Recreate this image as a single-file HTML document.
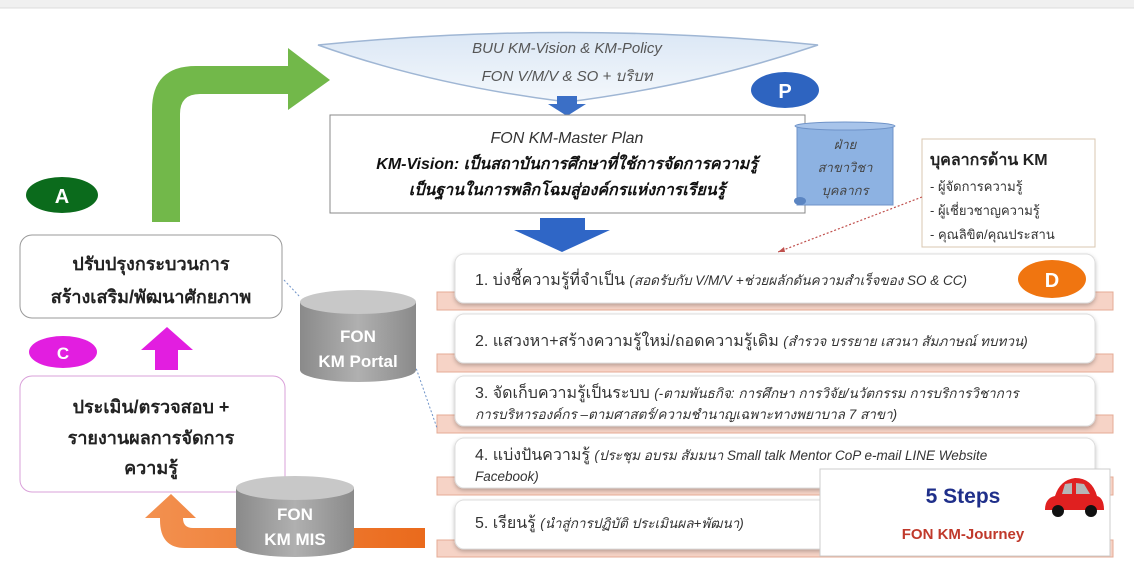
<!DOCTYPE html>
<html><head><meta charset="utf-8"><style>
body{margin:0;width:1134px;height:575px;overflow:hidden;background:#fff;font-family:"Liberation Sans","Noto Sans CJK SC",sans-serif}
</style></head><body>
<svg width="1134" height="575" xmlns="http://www.w3.org/2000/svg" style="position:absolute;left:0;top:0;font-family:'Liberation Sans','Noto Sans CJK SC',sans-serif">
<defs>
<linearGradient id="cyl" x1="0" x2="1"><stop offset="0" stop-color="#8a8a8a"/><stop offset="0.5" stop-color="#b0b0b0"/><stop offset="1" stop-color="#8a8a8a"/></linearGradient>
<linearGradient id="lens" x1="0" y1="0" x2="0" y2="1"><stop offset="0" stop-color="#dbe7f5"/><stop offset="1" stop-color="#f4f8fc"/></linearGradient>
<linearGradient id="orng" x1="0" x2="1"><stop offset="0" stop-color="#f39150"/><stop offset="1" stop-color="#ea6a1c"/></linearGradient>
<filter id="sh" x="-5%" y="-20%" width="110%" height="150%"><feDropShadow dx="0" dy="2" stdDeviation="2" flood-color="#000" flood-opacity="0.25"/></filter>
</defs>
<rect x="0" y="0" width="1134" height="8" fill="#f0f0f0"/>
<line x1="0" y1="8" x2="1134" y2="8" stroke="#ddd"/>
<path d="M152,222 L152,110 Q152,66 196,66 L288,66 L288,48 L330,80 L288,110 L288,94 L200,94 Q180,94 180,114 L180,222 Z" fill="#72b84a"/>
<path d="M318,45 Q567,20 818,45 Q700,85 567,102 Q430,85 318,45 Z" fill="url(#lens)" stroke="#9fb6d4" stroke-width="1.5"/>
<text x="567" y="53" text-anchor="middle" font-size="15" font-style="italic" fill="#555">BUU KM-Vision &amp; KM-Policy</text>
<text x="567" y="81" text-anchor="middle" font-size="15" font-style="italic" fill="#555">FON V/M/V &amp; SO + บริบท</text>
<path d="M557,96 L577,96 L577,104 L586,104 L567,116 L548,104 L557,104 Z" fill="#3b6fc6"/>
<ellipse cx="785" cy="90" rx="34" ry="18" fill="#2e64c0"/>
<text x="785" y="98" text-anchor="middle" font-size="20" font-weight="bold" fill="#fff">P</text>
<rect x="330" y="115" width="475" height="98" fill="#fff" stroke="#888"/>
<text x="567" y="143" text-anchor="middle" font-size="16" font-style="italic" fill="#333">FON KM-Master  Plan</text>
<text x="567" y="169" text-anchor="middle" font-size="16" font-style="italic" font-weight="bold" fill="#111">KM-Vision: เป็นสถาบันการศึกษาที่ใช้การจัดการความรู้</text>
<text x="567" y="195" text-anchor="middle" font-size="16" font-style="italic" font-weight="bold" fill="#111">เป็นฐานในการพลิกโฉมสู่องค์กรแห่งการเรียนรู้</text>
<rect x="797" y="125" width="96" height="80" fill="#8db2e2" stroke="#6f93c8"/>
<ellipse cx="845" cy="126" rx="50" ry="4" fill="#a8c4ea" stroke="#6f93c8"/>
<ellipse cx="800" cy="201" rx="6" ry="4" fill="#5b85c2"/>
<text x="845" y="149" text-anchor="middle" font-size="13" font-style="italic" fill="#444">ฝ่าย</text>
<text x="845" y="172" text-anchor="middle" font-size="13" font-style="italic" fill="#444">สาขาวิชา</text>
<text x="845" y="195" text-anchor="middle" font-size="13" font-style="italic" fill="#444">บุคลากร</text>
<rect x="922" y="139" width="173" height="108" fill="#fff" stroke="#d9c7b0"/>
<text x="930" y="165" font-size="16" font-weight="bold" fill="#222">บุคลากรด้าน KM</text>
<text x="930" y="191" font-size="13" fill="#333">- ผู้จัดการความรู้</text>
<text x="930" y="215" font-size="13" fill="#333">- ผู้เชี่ยวชาญความรู้</text>
<text x="930" y="239" font-size="13" fill="#333">- คุณลิขิต/คุณประสาน</text>
<line x1="922" y1="197" x2="778" y2="252" stroke="#c0504d" stroke-width="1.2" stroke-dasharray="2,2"/>
<path d="M778,252 l6,-5 l1,5z" fill="#c0504d"/>
<path d="M540,218 L585,218 L585,230 L610,230 L562,252 L514,230 L540,230 Z" fill="#2f66c6"/>
<g>
<rect x="437" y="292" width="676" height="18" fill="#f6d3c6" stroke="#e5ab95"/>
<rect x="455" y="254" width="640" height="49" rx="9" fill="#fff" stroke="#ddd" filter="url(#sh)"/>
<rect x="437" y="354" width="676" height="18" fill="#f6d3c6" stroke="#e5ab95"/>
<rect x="455" y="314" width="640" height="49" rx="9" fill="#fff" stroke="#ddd" filter="url(#sh)"/>
<rect x="437" y="415" width="676" height="18" fill="#f6d3c6" stroke="#e5ab95"/>
<rect x="455" y="376" width="640" height="50" rx="9" fill="#fff" stroke="#ddd" filter="url(#sh)"/>
<rect x="437" y="477" width="676" height="18" fill="#f6d3c6" stroke="#e5ab95"/>
<rect x="455" y="438" width="640" height="50" rx="9" fill="#fff" stroke="#ddd" filter="url(#sh)"/>
<rect x="437" y="540" width="676" height="17" fill="#f6d3c6" stroke="#e5ab95"/>
<rect x="455" y="500" width="640" height="49" rx="9" fill="#fff" stroke="#ddd" filter="url(#sh)"/>
</g>
<g font-size="16" fill="#333">
<text x="475" y="285">1. บ่งชี้ความรู้ที่จำเป็น <tspan font-size="13.5" font-style="italic">(สอดรับกับ V/M/V +ช่วยผลักดันความสำเร็จของ SO &amp; CC)</tspan></text>
<text x="475" y="346">2. แสวงหา+สร้างความรู้ใหม่/ถอดความรู้เดิม <tspan font-size="13.5" font-style="italic">(สำรวจ บรรยาย เสวนา สัมภาษณ์ ทบทวน)</tspan></text>
<text x="475" y="398">3. จัดเก็บความรู้เป็นระบบ <tspan font-size="13.5" font-style="italic">(-ตามพันธกิจ: การศึกษา การวิจัย/นวัตกรรม การบริการวิชาการ</tspan></text>
<text x="475" y="419" font-size="13.5" font-style="italic">การบริหารองค์กร –ตามศาสตร์/ความชำนาญเฉพาะทางพยาบาล 7 สาขา)</text>
<text x="475" y="460">4. แบ่งปันความรู้ <tspan font-size="13.5" font-style="italic">(ประชุม อบรม สัมมนา Small talk Mentor CoP e-mail LINE Website</tspan></text>
<text x="475" y="481" font-size="13.5" font-style="italic">Facebook)</text>
<text x="475" y="528">5. เรียนรู้ <tspan font-size="13.5" font-style="italic">(นำสู่การปฏิบัติ ประเมินผล+พัฒนา)</tspan></text>
</g>
<ellipse cx="1052" cy="279" rx="34" ry="19" fill="#f07510"/>
<text x="1052" y="287" text-anchor="middle" font-size="20" font-weight="bold" fill="#fff">D</text>
<rect x="820" y="469" width="290" height="87" fill="#fff" stroke="#ccc"/>
<text x="963" y="503" text-anchor="middle" font-size="21" font-weight="bold" fill="#1f2f8a">5 Steps</text>
<text x="963" y="539" text-anchor="middle" font-size="15" font-weight="bold" fill="#c0392b">FON KM-Journey</text>
<g>
<path d="M1045,510 Q1045,498 1055,496 Q1060,480 1075,478 Q1092,478 1097,496 Q1104,498 1104,510 Z" fill="#e02020"/>
<path d="M1062,494 L1065,484 L1072,483 L1072,494 Z" fill="#b6b6b6"/>
<path d="M1076,494 L1076,483 L1084,484 L1090,494 Z" fill="#b6b6b6"/>
<circle cx="1058" cy="511" r="6" fill="#111"/><circle cx="1091" cy="511" r="6" fill="#111"/>
</g>
<ellipse cx="62" cy="195" rx="36" ry="18" fill="#0b6b1c"/>
<text x="62" y="203" text-anchor="middle" font-size="20" font-weight="bold" fill="#fff">A</text>
<rect x="20" y="235" width="262" height="83" rx="12" fill="#fff" stroke="#999"/>
<text x="151" y="270" text-anchor="middle" font-size="18" font-weight="bold" fill="#222">ปรับปรุงกระบวนการ</text>
<text x="151" y="303" text-anchor="middle" font-size="18" font-weight="bold" fill="#222">สร้างเสริม/พัฒนาศักยภาพ</text>
<ellipse cx="63" cy="352" rx="34" ry="16" fill="#e21ee0"/>
<text x="63" y="359" text-anchor="middle" font-size="17" font-weight="bold" fill="#fff">C</text>
<path d="M167,327 L193,350 L178,350 L178,370 L155,370 L155,350 L141,350 Z" fill="#e21ee0"/>
<rect x="20" y="376" width="265" height="116" rx="12" fill="#fff" stroke="#d9a0d9"/>
<text x="151" y="413" text-anchor="middle" font-size="18" font-weight="bold" fill="#222">ประเมิน/ตรวจสอบ +</text>
<text x="151" y="444" text-anchor="middle" font-size="18" font-weight="bold" fill="#222">รายงานผลการจัดการ</text>
<text x="151" y="474" text-anchor="middle" font-size="18" font-weight="bold" fill="#222">ความรู้</text>
<line x1="284" y1="280" x2="300" y2="297" stroke="#6f93c8" stroke-dasharray="2,2"/>
<line x1="415" y1="365" x2="437" y2="428" stroke="#6f93c8" stroke-dasharray="2,2"/>
<path d="M425,528 L425,548 L185,548 Q160,548 160,520 L160,518 L145,518 L171,494 L196,518 L183,518 Q183,528 193,528 Z" fill="url(#orng)"/>
<g>
<path d="M300,302 L300,370 A58,12 0 0 0 416,370 L416,302 Z" fill="url(#cyl)"/>
<ellipse cx="358" cy="302" rx="58" ry="12" fill="#c8c8c8"/>
<text x="358" y="342" text-anchor="middle" font-size="17" font-weight="bold" fill="#fff">FON</text>
<text x="358" y="367" text-anchor="middle" font-size="17" font-weight="bold" fill="#fff">KM Portal</text>
<path d="M236,488 L236,545 A59,12 0 0 0 354,545 L354,488 Z" fill="url(#cyl)"/>
<ellipse cx="295" cy="488" rx="59" ry="12" fill="#c8c8c8"/>
<text x="295" y="520" text-anchor="middle" font-size="17" font-weight="bold" fill="#fff">FON</text>
<text x="295" y="545" text-anchor="middle" font-size="17" font-weight="bold" fill="#fff">KM MIS</text>
</g>
</svg>
</body></html>
